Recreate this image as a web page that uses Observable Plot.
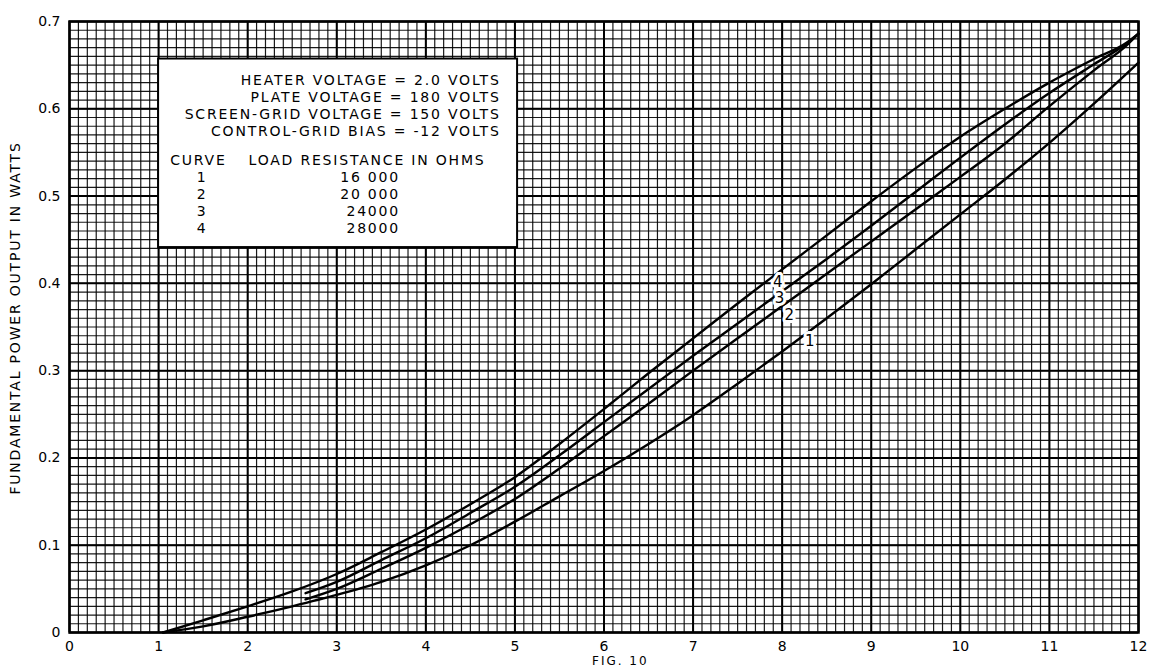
<!DOCTYPE html>
<html>
<head>
<meta charset="utf-8">
<script src="https://cdn.jsdelivr.net/npm/d3@7"></script>
<script src="https://cdn.jsdelivr.net/npm/@observablehq/plot@0.6"></script>
<style>
  html, body { margin: 0; padding: 0; background: #fff; overflow: hidden; }
  #chart { position: relative; width: 1151px; height: 670px; }
  #chart svg { display: block; }
  #fig { position: absolute; left: 592px; top: 655px; font: 12px/13px "DejaVu Sans"; letter-spacing: 2px; color: #000; }
  #ytitle { position: absolute; left: -235px; top: 310px; width: 500px; height: 16px; line-height: 16px;
            text-align: center; font: 14px "DejaVu Sans"; letter-spacing: 1.8px; color: #000;
            transform: rotate(-90deg); transform-origin: 50% 50%; white-space: nowrap; }
</style>
</head>
<body>
<div id="chart"><div id="ytitle"></div><div id="fig">FIG. 10</div></div>
<script>
// ---------- data ----------
const curveNumbers = ["1", "2", "3", "4"];
const loadResistances = ["16 000", "20 000", "24000", "28000"];
const operatingConditions = [
  "HEATER VOLTAGE = 2.0 VOLTS",
  "PLATE VOLTAGE = 180 VOLTS",
  "SCREEN-GRID VOLTAGE = 150 VOLTS",
  "CONTROL-GRID BIAS = -12 VOLTS"
];
const legendHeader = ["CURVE", "LOAD RESISTANCE IN OHMS"];
const yAxisTitle = "FUNDAMENTAL POWER OUTPUT IN WATTS";

const xTicks = [0, 1, 2, 3, 4, 5, 6, 7, 8, 9, 10, 11, 12];
const xTickLabels = ["0", "1", "2", "3", "4", "5", "6", "7", "8", "9", "10", "11", "12"];
const yTicks = [0, 0.1, 0.2, 0.3, 0.4, 0.5, 0.6, 0.7];
const yTickLabels = ["0", "0.1", "0.2", "0.3", "0.4", "0.5", "0.6", "0.7"];

// curve 1 : 16 000 ohms
const curve1X = [1.05, 1.5, 2.0, 2.5, 3.0, 3.5, 4.0, 4.5, 5.0, 5.5, 6.0, 6.5, 7.0, 7.5, 8.0, 8.5, 9.0, 9.5, 10.0, 10.5, 11.0, 11.5, 12.0];
const curve1Y = [0.0, 0.007, 0.018, 0.030, 0.043, 0.058, 0.077, 0.100, 0.127, 0.156, 0.185, 0.216, 0.249, 0.285, 0.322, 0.360, 0.399, 0.439, 0.479, 0.519, 0.561, 0.606, 0.653];
// curve 2 : 20 000 ohms
const curve2X = [2.65, 3.0, 3.5, 4.0, 4.5, 5.0, 5.5, 6.0, 6.5, 7.0, 7.5, 8.0, 8.5, 9.0, 9.5, 10.0, 10.5, 11.0, 11.5, 11.87, 12.0];
const curve2Y = [0.038, 0.050, 0.073, 0.097, 0.124, 0.153, 0.188, 0.225, 0.262, 0.300, 0.337, 0.374, 0.411, 0.448, 0.485, 0.522, 0.560, 0.603, 0.644, 0.673, 0.686];
// curve 3 : 24 000 ohms
const curve3X = [2.65, 3.0, 3.5, 4.0, 4.5, 5.0, 5.5, 6.0, 6.5, 7.0, 7.5, 8.0, 8.5, 9.0, 9.5, 10.0, 10.5, 11.0, 11.5, 11.87, 12.0];
const curve3Y = [0.045, 0.058, 0.083, 0.108, 0.137, 0.167, 0.203, 0.241, 0.279, 0.317, 0.354, 0.391, 0.428, 0.466, 0.505, 0.544, 0.582, 0.618, 0.651, 0.675, 0.686];
// curve 4 : 28 000 ohms
const curve4X = [1.05, 1.5, 2.0, 2.5, 3.0, 3.5, 4.0, 4.5, 5.0, 5.5, 6.0, 6.5, 7.0, 7.5, 8.0, 8.5, 9.0, 9.5, 10.0, 10.5, 11.0, 11.5, 11.87, 12.0];
const curve4Y = [0.0, 0.014, 0.030, 0.047, 0.067, 0.092, 0.118, 0.147, 0.178, 0.216, 0.256, 0.297, 0.337, 0.377, 0.416, 0.455, 0.494, 0.532, 0.568, 0.600, 0.630, 0.657, 0.676, 0.686];

// ---------- build table ----------
const curveXs = [curve1X, curve2X, curve3X, curve4X];
const curveYs = [curve1Y, curve2Y, curve3Y, curve4Y];
const rows = [];
curveNumbers.forEach((c, k) => curveXs[k].forEach((x, i) => rows.push({curve: c, x, y: curveYs[k][i]})));

// ---------- layout (not data) ----------
const minorX = d3.range(1, 120).map(i => i / 10);
const minorY = d3.range(1, 70).map(i => i / 100);
const box = {x1: 1.0, x2: 5.03, y1: 0.441, y2: 0.657};
const condRight = 4.84, condTop = 0.632, lineStep = 0.0193;
const curveLabelX = [8.32, 8.09, 7.98, 7.96];
const curveLabelY = [0.334, 0.363, 0.383, 0.401];

const plot = Plot.plot({
  width: 1151,
  height: 660,
  marginLeft: 69,
  marginRight: 13,
  marginTop: 21,
  marginBottom: 28,
  x: {domain: [0, 12]},
  y: {domain: [0, 0.7]},
  style: {fontFamily: "DejaVu Sans", fontSize: "14px", color: "#000", background: "#fff"},
  marks: [
    Plot.ruleX(minorX, {stroke: "#000", strokeWidth: 1.2, strokeOpacity: 0.9}),
    Plot.ruleY(minorY, {stroke: "#000", strokeWidth: 1.2, strokeOpacity: 0.9}),
    Plot.ruleX(xTicks, {stroke: "#000", strokeWidth: 2}),
    Plot.ruleY(yTicks, {stroke: "#000", strokeWidth: 2}),
    Plot.rect([box], {x1: "x1", x2: "x2", y1: "y1", y2: "y2", fill: "#fff", stroke: "#000", strokeWidth: 2}),
    Plot.line(rows, {x: "x", y: "y", z: "curve", stroke: "#000", strokeWidth: 2.4, curve: "monotone-x"}),
    Plot.frame({stroke: "#000", strokeWidth: 2.5}),
    Plot.axisX({ticks: xTicks, tickSize: 0, tickPadding: 9, tickFormat: d => xTickLabels[xTicks.indexOf(d)], label: null, fontSize: 14}),
    Plot.axisY({ticks: yTicks, tickSize: 0, tickPadding: 9, tickFormat: d => yTickLabels[yTicks.indexOf(d)], label: null, fontSize: 14}),
    // legend box content
    Plot.text(operatingConditions, {x: () => condRight, y: (d, i) => condTop - i * lineStep, textAnchor: "end", fontSize: 14}),
    Plot.text(legendHeader, {x: (d, i) => [1.13, 2.01][i], y: () => 0.541, textAnchor: "start", fontSize: 14}),
    Plot.text(curveNumbers, {x: () => 1.49, y: (d, i) => 0.521 - i * lineStep, textAnchor: "middle", fontSize: 14}),
    Plot.text(loadResistances, {x: () => 3.71, y: (d, i) => 0.521 - i * lineStep, textAnchor: "end", fontSize: 14}),
    // curve labels
    Plot.text(curveNumbers, {x: curveLabelX, y: curveLabelY, text: d => d, fontSize: 15, fill: "#000", stroke: "#fff", strokeWidth: 6, paintOrder: "stroke"})
  ]
});

document.getElementById("chart").prepend(plot);
document.getElementById("ytitle").textContent = yAxisTitle;
d3.select(plot).selectAll('g[aria-label="text"] text').style("letter-spacing", "1.8px");
</script>
</body>
</html>
